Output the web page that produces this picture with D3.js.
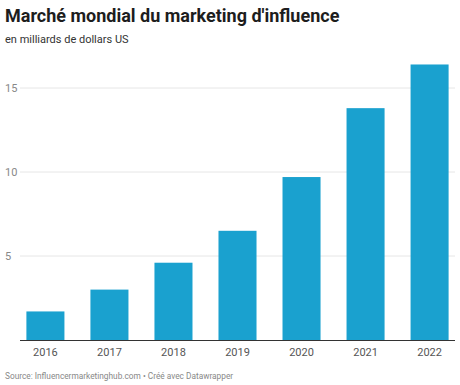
<!DOCTYPE html>
<html><head><meta charset="utf-8">
<script src="https://cdn.jsdelivr.net/npm/d3@7"></script>
<style>body{margin:0;background:#fff;font-family:Roboto,sans-serif;}</style>
</head><body><svg id="c" width="460" height="385"></svg>
<script>
const years = ["2016","2017","2018","2019","2020","2021","2022"];
const values = [1.7, 3.0, 4.6, 6.5, 9.7, 13.8, 16.4];
const yTicks = [5, 10, 15];
const title = "Marché mondial du marketing d'influence";
const subtitle = "en milliards de dollars US";
const source = "Source: Influencermarketinghub.com • Créé avec Datawrapper";

const svg = d3.select("#c");
const x = d3.scaleBand().domain(years).range([20, 455]).paddingInner(0.406).paddingOuter(0.1);
const y = d3.scaleLinear().domain([0, 15]).range([340, 88]);

svg.append("text").attr("x", 5).attr("y", 22).attr("font-size", 18).attr("font-weight", 700)
  .attr("fill", "#1d1d1d").text(title);
svg.append("text").attr("x", 5).attr("y", 43).attr("font-size", 11).attr("fill", "#333").text(subtitle);

const grid = svg.append("g");
yTicks.forEach(t => {
  grid.append("line").attr("x1", 20).attr("x2", 455).attr("y1", y(t)).attr("y2", y(t))
    .attr("stroke", "#e6e6e6").attr("stroke-width", 1);
  grid.append("text").attr("x", 5).attr("y", y(t)).attr("dy", "0.35em").attr("font-size", 11)
    .attr("fill", "#888").text(t);
});

svg.append("g").selectAll("rect").data(values).join("rect")
  .attr("x", (d, i) => x(years[i])).attr("width", x.bandwidth())
  .attr("y", d => y(d)).attr("height", d => y(0) - y(d)).attr("fill", "#1aa1cf");

svg.append("line").attr("x1", 20).attr("x2", 455).attr("y1", 340.5).attr("y2", 340.5)
  .attr("stroke", "#333").attr("stroke-width", 1);

const xa = svg.append("g").attr("transform", "translate(0,340)")
  .call(d3.axisBottom(x).tickSize(0).tickPadding(8));
xa.select(".domain").remove();
xa.selectAll("text").attr("font-size", 11).attr("fill", "#555").attr("font-family", "Roboto");

svg.append("text").attr("x", 5).attr("y", 379).attr("font-size", 8.3).attr("fill", "#888").text(source);
</script></body></html>
